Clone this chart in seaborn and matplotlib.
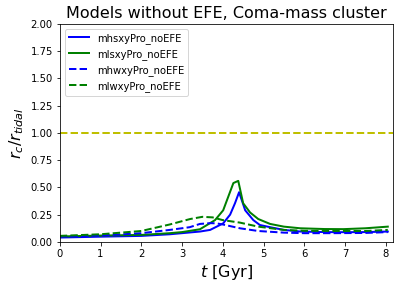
import numpy as np
import pandas as pd
import seaborn as sns
import matplotlib.pyplot as plt

# mlsxyPro_noEFE (green solid)
t_mls = [0, 1, 2, 2.7, 3.0, 3.44, 3.81, 4.01, 4.14, 4.26, 4.38, 4.5, 4.67, 4.87, 5.16, 5.5, 5.9, 6.5, 6.96, 7.5, 8.05]
v_mls = [0.05, 0.058, 0.064, 0.08, 0.09, 0.116, 0.20, 0.29, 0.42, 0.54, 0.56, 0.355, 0.27, 0.21, 0.165, 0.14, 0.125, 0.118, 0.117, 0.125, 0.14]

# mhsxyPro_noEFE (blue solid)
t_mhs = [0, 1, 2, 2.7, 3.44, 3.69, 4.01, 4.18, 4.30, 4.40, 4.55, 4.75, 4.91, 5.16, 5.5, 5.9, 6.5, 7, 7.5, 8.05]
v_mhs = [0.04, 0.048, 0.055, 0.07, 0.095, 0.11, 0.17, 0.25, 0.355, 0.456, 0.29, 0.20, 0.155, 0.135, 0.11, 0.095, 0.09, 0.089, 0.09, 0.095]

# mlwxyPro_noEFE (green dashed)
t_mlw = [0, 1, 2, 2.7, 3.2, 3.5, 3.75, 4.0, 4.42, 4.87, 5.5, 6.0, 6.7, 7.5, 8.05]
v_mlw = [0.055, 0.07, 0.10, 0.16, 0.21, 0.23, 0.225, 0.20, 0.177, 0.14, 0.11, 0.102, 0.10, 0.10, 0.11]

# mhwxyPro_noEFE (blue dashed)
t_mhw = [0, 1, 2, 2.7, 3.19, 3.44, 3.7, 3.85, 4.0, 4.42, 4.87, 5.5, 6.0, 6.7, 7.5, 8.05]
v_mhw = [0.05, 0.058, 0.08, 0.11, 0.135, 0.165, 0.172, 0.17, 0.16, 0.125, 0.10, 0.085, 0.08, 0.08, 0.082, 0.09]

fig, ax = plt.subplots(figsize=(404/72, 289/72), dpi=72)
fig.subplots_adjust(left=0.148, right=0.973, top=0.917, bottom=0.163)

sns.lineplot(x=t_mhs, y=v_mhs, color='b', lw=2, label='mhsxyPro_noEFE', ax=ax)
sns.lineplot(x=t_mls, y=v_mls, color='g', lw=2, label='mlsxyPro_noEFE', ax=ax)
sns.lineplot(x=t_mhw, y=v_mhw, color='b', lw=2, ls='--', label='mhwxyPro_noEFE', ax=ax)
sns.lineplot(x=t_mlw, y=v_mlw, color='g', lw=2, ls='--', label='mlwxyPro_noEFE', ax=ax)
ax.axhline(1.0, color='y', lw=2, ls='--')

ax.set_xlim(0, 8.18)
ax.set_ylim(0, 2)
ax.set_title("Models without EFE, Coma-mass cluster", fontsize=16)
ax.set_xlabel("$t$ [Gyr]", fontsize=16)
ax.set_ylabel(r"$r_c/r_{tidal}$", fontsize=16)
ax.legend(loc='upper left')

plt.savefig("out.png")
